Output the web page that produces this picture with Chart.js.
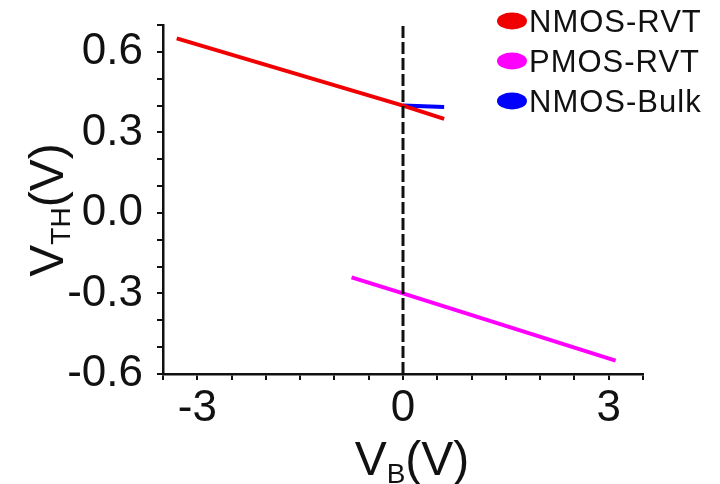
<!DOCTYPE html>
<html>
<head>
<meta charset="utf-8">
<script src="https://cdn.jsdelivr.net/npm/chart.js@4"></script>
<style>
  body { margin: 0; background: #fff; }
</style>
</head>
<body>
<canvas id="vthChart" width="720" height="484"></canvas>
<script>
// threshold voltage vs body bias
const seriesNames = ['NMOS-RVT', 'PMOS-RVT', 'NMOS-Bulk'];
const seriesColors = ['#f00000', '#ff00ff', '#0000ff'];

const nmosRvtVb = [-3.3, 0, 0.6];
const nmosRvtVth = [0.65, 0.40, 0.35];
const pmosRvtVb = [-0.75, 0, 3.1];
const pmosRvtVth = [-0.24, -0.30, -0.55];
const nmosBulkVb = [0, 0.6];
const nmosBulkVth = [0.40, 0.395];

// dashed marker at V_B = 0
const zeroLineVb = [0, 0];
const zeroLineVth = [-0.6, 0.7];

const xTickLabels = [-3, 0, 3];
const yTickLabels = [-0.6, -0.3, 0.0, 0.3, 0.6];

const FONT = '"Liberation Sans", Arial, sans-serif';
const INK = '#111';

const pts = (xs, ys) => xs.map((x, i) => ({ x: x, y: ys[i] }));

const lineSet = (i, xs, ys) => ({
    label: seriesNames[i],
    data: pts(xs, ys),
    showLine: true,
    borderColor: seriesColors[i],
    backgroundColor: seriesColors[i],
    borderWidth: 4,
    pointRadius: 0,
    tension: 0
});

const datasets = [
    {
        label: '',
        data: pts(zeroLineVb, zeroLineVth),
        showLine: true,
        borderColor: INK,
        borderWidth: 3,
        borderDash: [12, 4],
        pointRadius: 0
    },
    lineSet(0, nmosRvtVb, nmosRvtVth),
    lineSet(1, pmosRvtVb, pmosRvtVth),
    lineSet(2, nmosBulkVb, nmosBulkVth)
];

// text with a subscript: main + sub + tail
function subText(ctx, main, sub, tail, big, small, drop) {
    ctx.font = big + 'px ' + FONT;
    const w1 = ctx.measureText(main).width;
    const w3 = ctx.measureText(tail).width;
    ctx.font = small + 'px ' + FONT;
    const w2 = ctx.measureText(sub).width;
    const total = w1 + w2 + w3;
    let x = -total / 2;
    ctx.font = big + 'px ' + FONT;
    ctx.fillText(main, x, 0);
    x += w1;
    ctx.font = small + 'px ' + FONT;
    ctx.fillText(sub, x, drop);
    x += w2;
    ctx.font = big + 'px ' + FONT;
    ctx.fillText(tail, x, 0);
}

const decorations = {
    id: 'decorations',
    afterDraw(chart) {
        const ctx = chart.ctx;
        ctx.save();
        ctx.fillStyle = INK;
        ctx.textAlign = 'left';
        ctx.textBaseline = 'alphabetic';

        // x title
        ctx.save();
        ctx.translate(412, 475);
        subText(ctx, 'V', 'B', '(V)', 48, 28, 8);
        ctx.restore();

        // y title
        ctx.save();
        ctx.translate(63, 210);
        ctx.rotate(-Math.PI / 2);
        subText(ctx, 'V', 'TH', '(V)', 48, 28, 7);
        ctx.restore();

        // legend
        let row = 0;
        chart.data.datasets.forEach(ds => {
            if (!ds.label) return;
            const cy = 21 + row * 40;
            ctx.fillStyle = ds.borderColor;
            ctx.beginPath();
            ctx.ellipse(512, cy, 15, 8.5, 0, 0, Math.PI * 2);
            ctx.fill();
            ctx.fillStyle = INK;
            ctx.font = '31px ' + FONT;
            ctx.letterSpacing = '1px';
            ctx.fillText(ds.label, 529, cy + 11);
            ctx.letterSpacing = '0px';
            row++;
        });
        ctx.restore();
    }
};

const config = {
    type: 'scatter',
    data: { datasets: datasets },
    plugins: [decorations],
    options: {
        responsive: false,
        animation: false,
        layout: { padding: { top: 25, right: 77, left: 0, bottom: 0 } },
        plugins: {
            legend: { display: false },
            tooltip: { enabled: false }
        },
        scales: {
            x: {
                type: 'linear',
                min: -3.5,
                max: 3.5,
                border: { color: INK, width: 2.5 },
                grid: { drawOnChartArea: false, tickLength: 6, color: INK, lineWidth: 2 },
                ticks: {
                    stepSize: 0.5,
                    autoSkip: false,
                    maxRotation: 0,
                    padding: 2,
                    color: INK,
                    font: { family: FONT, size: 44 },
                    callback: v => xTickLabels.includes(v) ? String(v) : ''
                },
                afterFit(s) {
                    s.height = 110;
                    s.paddingLeft = 0;
                    s.paddingRight = 0;
                }
            },
            y: {
                min: -0.6,
                max: 0.7,
                border: { color: INK, width: 2.5 },
                grid: { drawOnChartArea: false, tickLength: 6, color: INK, lineWidth: 2 },
                ticks: {
                    stepSize: 0.1,
                    autoSkip: false,
                    padding: 14,
                    color: INK,
                    font: { family: FONT, size: 44, lineHeight: 1 },
                    callback: v => {
                        const k = Math.round(v * 10);
                        return yTickLabels.some(t => Math.round(t * 10) === k) ? (k / 10).toFixed(1) : '';
                    }
                },
                afterFit(s) {
                    s.width = 163;
                    s.paddingTop = 0;
                    s.paddingBottom = 0;
                }
            }
        }
    }
};

const canvas = document.getElementById('vthChart');
const vthChart = new Chart(canvas, config);
</script>
</body>
</html>
